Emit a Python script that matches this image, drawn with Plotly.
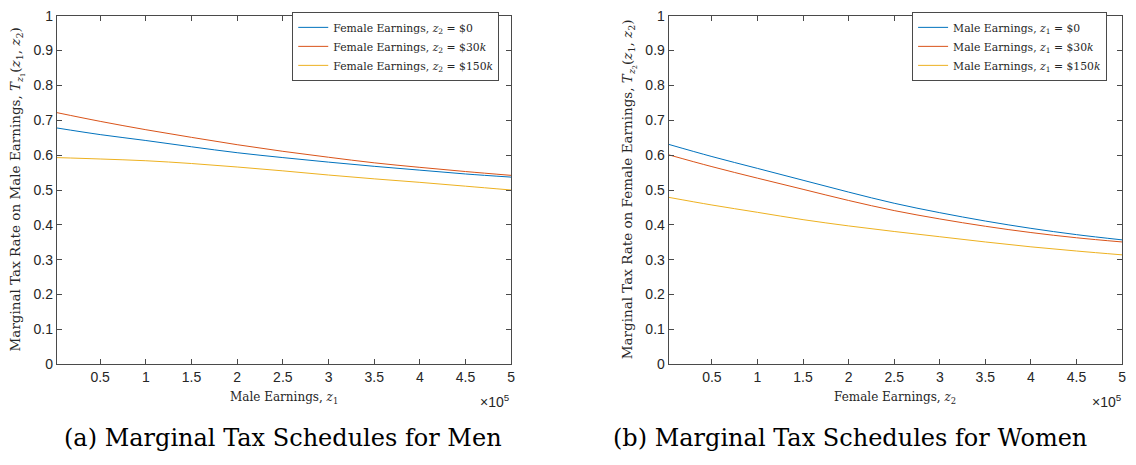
import plotly.graph_objects as go

W, H = 1136, 465

earnings = [2500, 50000, 100000, 150000, 200000, 250000, 300000, 350000, 400000, 450000, 500000]

# Panel (a): marginal tax rate on male earnings, by female earnings level
men_f0 = [0.678, 0.659, 0.642, 0.624, 0.607, 0.593, 0.580, 0.568, 0.557, 0.546, 0.537]
men_f30k = [0.722, 0.697, 0.673, 0.651, 0.630, 0.611, 0.594, 0.578, 0.565, 0.553, 0.542]
men_f150k = [0.593, 0.589, 0.584, 0.576, 0.566, 0.555, 0.543, 0.532, 0.522, 0.511, 0.500]

# Panel (b): marginal tax rate on female earnings, by male earnings level
women_m0 = [0.631, 0.596, 0.562, 0.528, 0.494, 0.462, 0.435, 0.411, 0.390, 0.372, 0.357]
women_m30k = [0.601, 0.567, 0.534, 0.502, 0.470, 0.441, 0.417, 0.396, 0.378, 0.363, 0.351]
women_m150k = [0.479, 0.457, 0.436, 0.415, 0.397, 0.381, 0.366, 0.351, 0.337, 0.325, 0.314]

xtick_vals = [50000, 100000, 150000, 200000, 250000, 300000, 350000, 400000, 450000, 500000]
xtick_text = ["0.5", "1", "1.5", "2", "2.5", "3", "3.5", "4", "4.5", "5"]
ytick_vals = [0, 0.1, 0.2, 0.3, 0.4, 0.5, 0.6, 0.7, 0.8, 0.9, 1]
ytick_text = ["0", "0.1", "0.2", "0.3", "0.4", "0.5", "0.6", "0.7", "0.8", "0.9", "1"]

colors = ["#0072BD", "#D95319", "#EDB120"]
legend_a = ["Female Earnings, <i>z</i><sub>2</sub> = $0",
            "Female Earnings, <i>z</i><sub>2</sub> = $30<i>k</i>",
            "Female Earnings, <i>z</i><sub>2</sub> = $150<i>k</i>"]
legend_b = ["Male Earnings, <i>z</i><sub>1</sub> = $0",
            "Male Earnings, <i>z</i><sub>1</sub> = $30<i>k</i>",
            "Male Earnings, <i>z</i><sub>1</sub> = $150<i>k</i>"]

SERIF = "DejaVu Serif, Liberation Serif, serif"
SANS = "Liberation Sans, Arial, sans-serif"
AXC = "#4a4a4a"
TXT = "#262626"

fig = go.Figure()
for ys, name, c in zip([men_f0, men_f30k, men_f150k], legend_a, colors):
    fig.add_trace(go.Scatter(x=earnings, y=ys, mode="lines", name=name, line=dict(color=c, width=1, shape="spline"),
                             xaxis="x", yaxis="y", legend="legend"))
for ys, name, c in zip([women_m0, women_m30k, women_m150k], legend_b, colors):
    fig.add_trace(go.Scatter(x=earnings, y=ys, mode="lines", name=name, line=dict(color=c, width=1, shape="spline"),
                             xaxis="x2", yaxis="y2", legend="legend2"))

def px(x):
    return x / W

def py(y):
    return 1 - y / H

ydom = [py(369), py(8)]
axis_common = dict(showline=True, linecolor=AXC, linewidth=1, mirror="ticks", ticks="inside", ticklen=5,
                   tickcolor=AXC, showgrid=False, zeroline=False, ticklabeloverflow="allow",
                   tickfont=dict(family=SANS, size=14, color=TXT))

fig.update_layout(
    width=W, height=H, margin=dict(l=0, r=0, t=0, b=0),
    paper_bgcolor="white", plot_bgcolor="white", showlegend=True,
    xaxis=dict(domain=[px(57), px(513)], range=[2500, 500000], tickvals=xtick_vals, ticktext=xtick_text,
               anchor="y", **axis_common),
    yaxis=dict(domain=ydom, range=[0, 1], tickvals=ytick_vals, ticktext=ytick_text, anchor="x", **axis_common),
    xaxis2=dict(domain=[px(671), px(1126)], range=[2500, 500000], tickvals=xtick_vals, ticktext=xtick_text,
                anchor="y2", **axis_common),
    yaxis2=dict(domain=ydom, range=[0, 1], tickvals=ytick_vals, ticktext=ytick_text, anchor="x2", **axis_common),
    legend=dict(x=px(501), y=py(4), xanchor="right", yanchor="top", bgcolor="white", bordercolor=AXC,
                borderwidth=1, font=dict(family=SERIF, size=10.8, color=TXT), tracegroupgap=0),
    legend2=dict(x=px(1111), y=py(4), xanchor="right", yanchor="top", bgcolor="white", bordercolor=AXC,
                 borderwidth=1, font=dict(family=SERIF, size=10.8, color=TXT), tracegroupgap=0),
)

ann = []
# y-axis titles
ann.append(dict(text="Marginal Tax Rate on Male Earnings, <i>T</i><sub><i>z</i><sub>1</sub></sub>(<i>z</i><sub>1</sub>, <i>z</i><sub>2</sub>)",
                x=px(17), y=py(188), textangle=-90, font=dict(family=SERIF, size=13.5, color=TXT)))
ann.append(dict(text="Marginal Tax Rate on Female Earnings, <i>T</i><sub><i>z</i><sub>2</sub></sub>(<i>z</i><sub>1</sub>, <i>z</i><sub>2</sub>)",
                x=px(631), y=py(188), textangle=-90, font=dict(family=SERIF, size=13.5, color=TXT)))
# x-axis titles
ann.append(dict(text="Male Earnings, <i>z</i><sub>1</sub>", x=px(285), y=py(404),
                font=dict(family=SERIF, size=12, color=TXT)))
ann.append(dict(text="Female Earnings, <i>z</i><sub>2</sub>", x=px(898), y=py(404),
                font=dict(family=SERIF, size=12, color=TXT)))
# exponent labels
ann.append(dict(text="×10<sup>5</sup>", x=px(514), y=py(407), xanchor="right",
                font=dict(family=SANS, size=14, color=TXT)))
ann.append(dict(text="×10<sup>5</sup>", x=px(1128), y=py(407), xanchor="right",
                font=dict(family=SANS, size=14, color=TXT)))
# captions
ann.append(dict(text="(a) Marginal Tax Schedules for Men", x=px(284), y=py(445),
                font=dict(family=SERIF, size=24, color="black")))
ann.append(dict(text="(b) Marginal Tax Schedules for Women", x=px(853), y=py(445),
                font=dict(family=SERIF, size=24, color="black")))
for a in ann:
    a.update(xref="paper", yref="paper", showarrow=False)
    a.setdefault("xanchor", "center")
    a.setdefault("yanchor", "middle")
fig.update_layout(annotations=ann)

fig.write_html("out.html")
